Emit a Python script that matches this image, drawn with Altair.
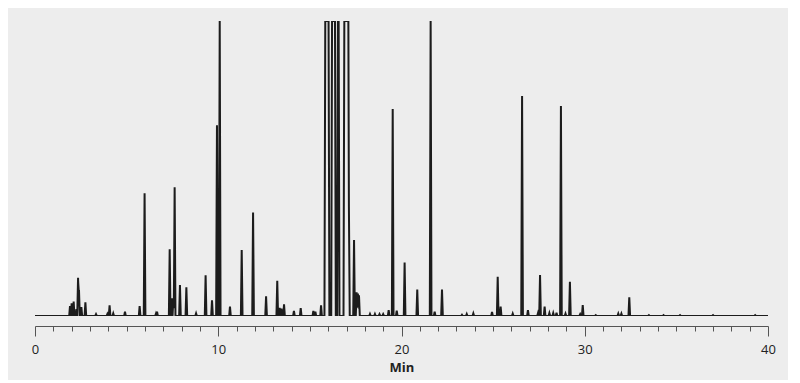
import altair as alt
import pandas as pd

# Retention times (min) and heights (% of full scale)
peak_time = [1.91, 2.00, 2.11, 2.26, 2.35, 2.40, 2.53, 2.75, 3.33, 3.95, 4.07, 4.27, 4.91,
             5.71, 5.98, 6.60, 6.66, 7.35, 7.46, 7.55, 7.62, 7.91, 8.26, 8.79, 9.31, 9.66,
             9.93, 10.08, 10.64, 11.28, 11.90, 12.61, 13.22, 13.35, 13.45, 13.59, 14.13,
             14.50, 15.19, 15.30, 15.61, 17.13, 17.41, 17.55, 17.62, 17.68, 18.28, 18.55,
             18.80, 19.00, 19.30, 19.52, 19.74, 20.17, 20.86, 21.59, 21.81, 22.21, 23.30,
             23.56, 23.92, 24.94, 25.25, 25.41, 26.07, 26.58, 26.90, 27.45, 27.56, 27.81,
             28.07, 28.28, 28.46, 28.70, 28.95, 29.19, 29.75, 29.89, 30.60, 31.83, 32.00,
             32.43, 33.50, 34.30, 35.20, 37.00, 39.30]
peak_height = [3.4, 4.3, 4.9, 2.3, 13.0, 8.8, 3.0, 4.6, 0.6, 0.7, 3.6, 0.9, 1.5,
               3.4, 41.6, 0.8, 1.5, 22.6, 6.0, 6.0, 43.6, 10.5, 9.7, 0.9, 13.8, 5.3,
               64.7, 100.0, 3.2, 22.4, 35.1, 6.7, 11.9, 2.8, 2.5, 4.0, 1.7,
               2.7, 1.7, 1.5, 3.6, 37.0, 25.8, 8.0, 7.6, 7.0, 0.7, 0.7,
               0.6, 0.6, 2.0, 70.2, 1.8, 18.1, 9.0, 100.0, 1.5, 9.0, 0.4,
               0.7, 0.9, 1.4, 13.3, 3.2, 0.8, 74.6, 2.0, 1.0, 13.9, 3.2,
               1.0, 1.0, 1.1, 71.2, 0.8, 11.6, 0.6, 3.7, 0.3, 0.8, 0.8,
               6.3, 0.3, 0.3, 0.3, 0.3, 0.3]

# Off-scale (saturated) peaks: start and end of the flat top (min)
sat_start = [15.84, 16.21, 16.31, 16.53, 16.88]
sat_end = [16.02, 16.27, 16.37, 16.57, 17.10]

HALF_WIDTH = 0.045
RAMP = 0.045


def signal(x):
    v = 0.0
    for t, h in zip(peak_time, peak_height):
        d = abs(x - t)
        if d < HALF_WIDTH:
            v = max(v, h * (1 - d / HALF_WIDTH))
    for s, e in zip(sat_start, sat_end):
        if s <= x <= e:
            v = max(v, 100.0)
        else:
            d = s - x if x < s else x - e
            if d < RAMP:
                v = max(v, 100.0 * (1 - d / RAMP))
    return v


xs = {0.0, 40.0}
for t in peak_time:
    xs.update([t - HALF_WIDTH, t, t + HALF_WIDTH])
for s, e in zip(sat_start, sat_end):
    xs.update([s - RAMP, s, e, e + RAMP])
xs = sorted(xs)
df = pd.DataFrame({"t": xs, "v": [signal(x) for x in xs]})

x_ticks = list(range(0, 41))

line = alt.Chart(df).mark_line(color="#1c1c1c", strokeWidth=2, clip=True).encode(
    x=alt.X(
        "t:Q",
        scale=alt.Scale(domain=[0, 40], nice=False, zero=False),
        axis=alt.Axis(
            values=x_ticks,
            labelExpr="datum.value % 10 === 0 ? datum.label : ''",
            labelOverlap=False,
            labelFlush=False,
            tickSize={"condition": {"test": "datum.value % 10 === 0", "value": 10}, "value": 5},
            offset=10,
            grid=False,
            title="Min",
            titleFontWeight="bold",
            titleFontSize=13,
            titleColor="#222222",
            titlePadding=5,
            labelFontSize=13,
            labelColor="#222222",
            labelPadding=7,
            domainColor="#555555",
            tickColor="#555555",
        ),
    ),
    y=alt.Y("v:Q", scale=alt.Scale(domain=[0, 100], nice=False), axis=None),
)

chart = line.properties(
    width=733,
    height=295,
    background="#ededed",
    padding={"left": 27, "top": 13, "right": 20, "bottom": 64},
    autosize=alt.AutoSizeParams(type="none"),
).configure_view(stroke=None).configure_axis(
    labelFont="Open Sans", titleFont="Open Sans"
)

chart.save("out.html", embed_options={"renderer": "svg", "actions": False})
